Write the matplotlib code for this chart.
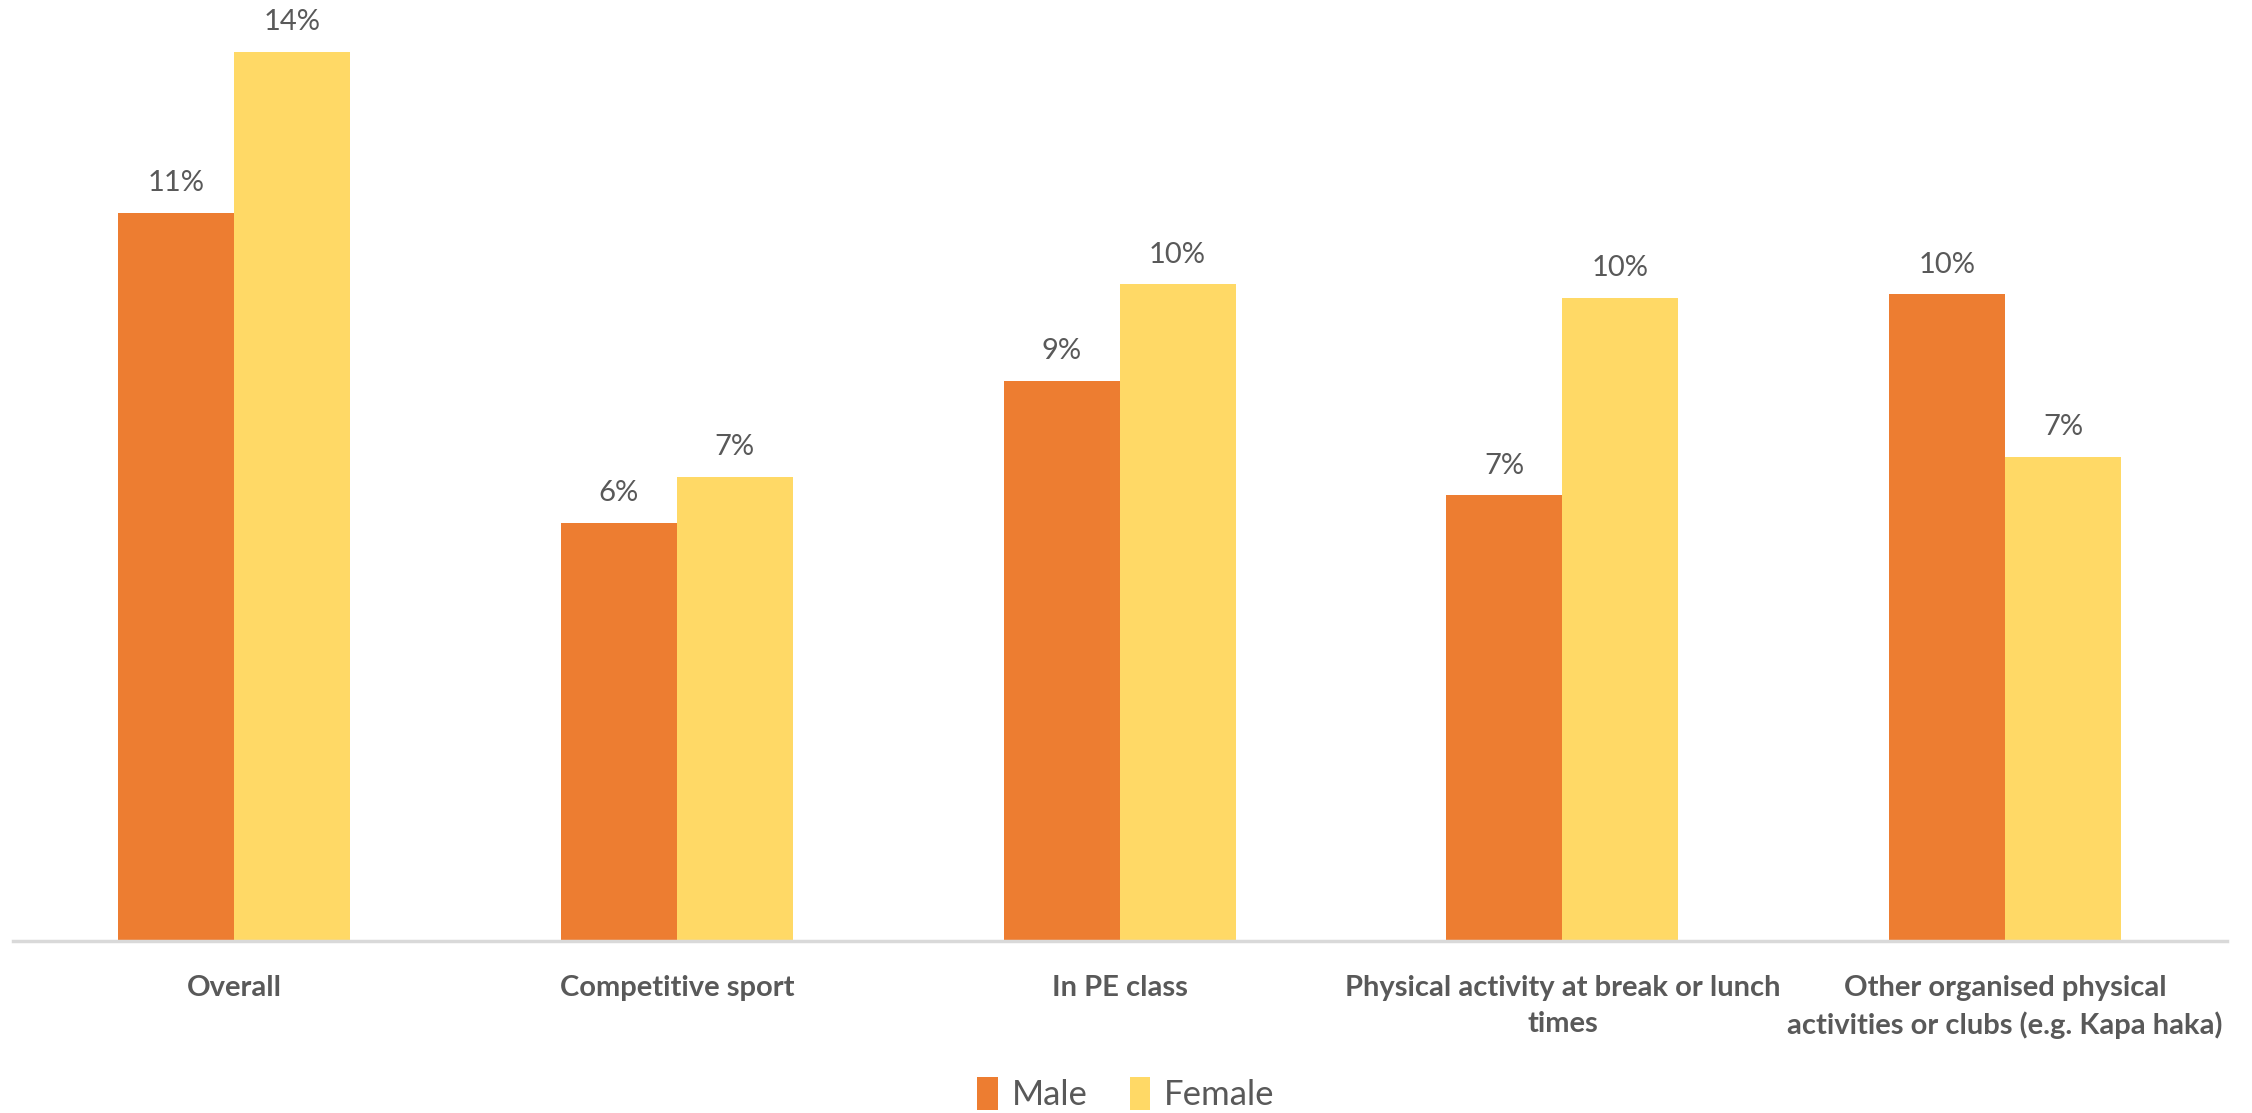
import matplotlib
matplotlib.use("Agg")
import matplotlib.pyplot as plt
import numpy as np

categories = ["Overall", "Competitive sport", "In PE class",
              "Physical activity at break or lunch\ntimes",
              "Other organised physical\nactivities or clubs (e.g. Kapa haka)"]
male = [11.18, 6.42, 8.60, 6.84, 9.93]
female = [13.65, 7.12, 10.08, 9.87, 7.43]
series_names = ["Male", "Female"]
colors = ["#ED7D31", "#FFD966"]

plt.rcParams['font.family'] = ["Lato", "DejaVu Sans"]

fig = plt.figure(figsize=(22.52, 11.13), dpi=100)
ax = fig.add_axes([12.6/2252, (1113-940.5)/1113, 2214/2252, 940.5/1113])
x = np.arange(len(categories))
w = 0.262
b1 = ax.bar(x - w/2, male, w, color=colors[0], label=series_names[0])
b2 = ax.bar(x + w/2, female, w, color=colors[1], label=series_names[1])
for bars in (b1, b2):
    ax.bar_label(bars, labels=[f"{round(v)}%" for v in bars.datavalues],
                 padding=12, fontsize=21, color="#595959")
ax.set_xlim(-0.5, len(categories) - 0.5)
ax.set_ylim(0, 14.45)
ax.set_yticks([])
for s in ["top", "right", "left"]:
    ax.spines[s].set_visible(False)
ax.spines["bottom"].set_color("#D9D9D9")
ax.spines["bottom"].set_linewidth(2.5)
ax.set_xticks(x)
ax.set_xticklabels(categories, fontsize=21, fontweight="bold", color="#595959",
                   linespacing=1.45, va="top")
ax.tick_params(axis="x", length=0, pad=25)
fig.legend(loc="center", bbox_to_anchor=(0.5, 0.017), ncol=2, frameon=False,
           fontsize=25, handlelength=0.6, handleheight=1.1, handletextpad=0.4,
           columnspacing=1.2, labelcolor="#595959")
fig.savefig("out.png", dpi=100)
